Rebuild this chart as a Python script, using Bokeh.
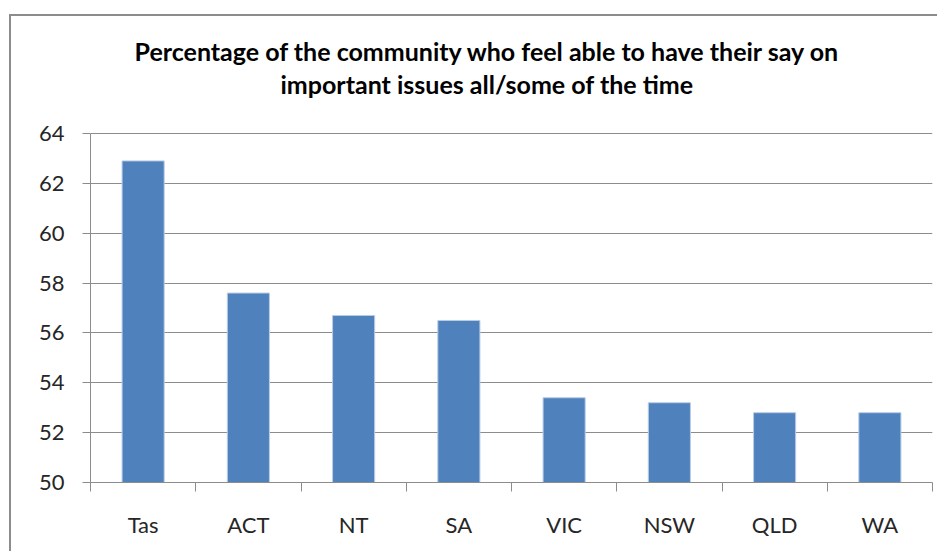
from bokeh.plotting import figure
from bokeh.models import Range1d, FixedTicker, Title
from bokeh.embed import file_html
from bokeh.resources import INLINE

categories = ["Tas", "ACT", "NT", "SA", "VIC", "NSW", "QLD", "WA"]
values = [62.9, 57.6, 56.7, 56.5, 53.4, 53.2, 52.8, 52.8]
y_ticks = [50, 52, 54, 56, 58, 60, 62, 64]
title_lines = ["Percentage of the community who feel able to have their say on",
               "important issues all/some of the time"]

W, H = 937, 551
xs = [i + 0.5 for i in range(len(categories))]
# frame extends 32px above the 64 gridline (349px span for 50..64) to leave
# room for the title gap; the axis line is bounded to 50..64
y_min, y_max = y_ticks[0], y_ticks[-1]
y_top = y_max + (y_max - y_min) * 32 / 349

p = figure(width=W, height=H, output_backend="svg", toolbar_location=None,
           title=None,
           x_range=Range1d(0, len(categories)), y_range=Range1d(y_min, y_top),
           min_border_left=90, min_border_right=5, min_border_top=101,
           min_border_bottom=69)
p.outline_line_color = None
p.background_fill_color = None
p.border_fill_color = None

# chart frame border (left and top edges only, as in the cropped reference)
p.styles = {
    "background": ("linear-gradient(#8C8C8C, #8C8C8C) 9px 14px / 100% 2px no-repeat, "
                   "linear-gradient(#8C8C8C, #8C8C8C) 9px 14px / 2px 100% no-repeat, white"),
}

title_style = dict(align="left", text_font="Lato", text_font_style="bold",
                   text_font_size="25px", text_color="#000000")
p.add_layout(Title(text=title_lines[1], standoff=6, offset=190, **title_style), "above")
p.add_layout(Title(text=title_lines[0], standoff=-4, offset=44, **title_style), "above")

p.vbar(x=xs, top=values, bottom=y_min, width=0.4, fill_color="#4F81BD",
       line_color="#B9CDE5", line_width=1)

grid_col = "#8C8C8C"
p.xgrid.grid_line_color = None
p.ygrid.grid_line_color = grid_col
p.ygrid.grid_line_width = 1
p.ygrid.ticker = FixedTicker(ticks=y_ticks)

p.yaxis.ticker = FixedTicker(ticks=y_ticks)
p.yaxis.bounds = (y_min, y_max)
p.yaxis.axis_line_color = grid_col
p.yaxis.major_tick_line_color = grid_col
p.yaxis.major_tick_out = 8
p.yaxis.major_tick_in = 0
p.yaxis.minor_tick_line_color = None
p.yaxis.major_label_text_font = "Lato"
p.yaxis.major_label_text_font_size = "22px"
p.yaxis.major_label_text_color = "#262626"
p.yaxis.major_label_standoff = 18

p.xaxis.ticker = FixedTicker(ticks=xs, minor_ticks=list(range(len(categories) + 1)))
p.xaxis.major_label_overrides = {x: c for x, c in zip(xs, categories)}
p.xaxis.axis_line_color = grid_col
p.xaxis.major_tick_line_color = None
p.xaxis.major_tick_out = 0
p.xaxis.minor_tick_line_color = grid_col
p.xaxis.minor_tick_out = 9
p.xaxis.minor_tick_in = 0
p.xaxis.major_label_text_font = "Lato"
p.xaxis.major_label_text_font_size = "22px"
p.xaxis.major_label_text_color = "#262626"
p.xaxis.major_label_standoff = 19

open("out.html", "w").write(file_html(p, INLINE))
